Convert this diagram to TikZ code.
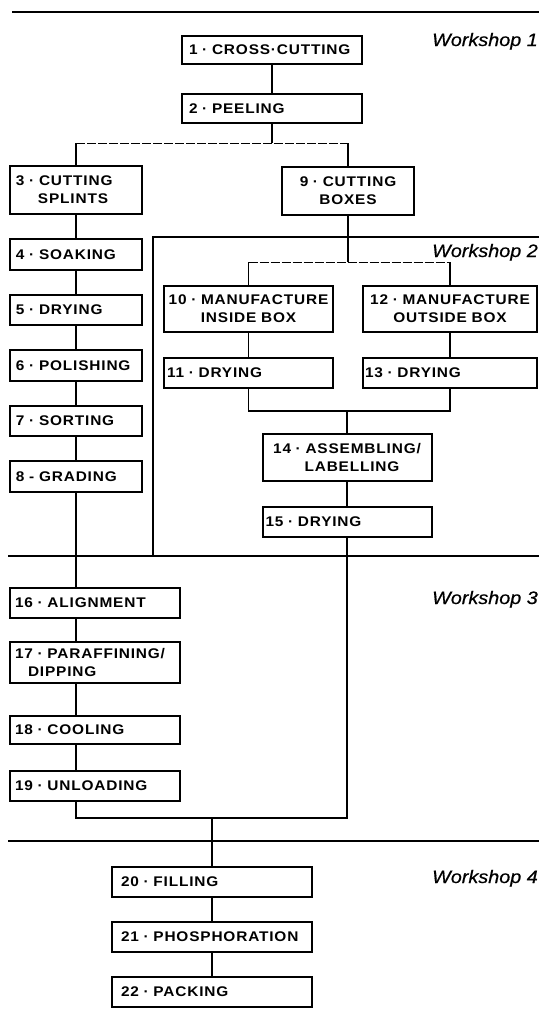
\documentclass[tikz,border=0pt]{standalone}
\usepackage{fontspec}
\newfontfamily\stagefont{Liberation Sans}[FakeStretch=1.1, LetterSpace=6]
\newfontfamily\shopfont{Liberation Sans}[FakeStretch=1.1, FakeBold=0.6]
\usetikzlibrary{positioning}

\tikzset{
  stage/.style = {draw, line width=2pt, inner xsep=6pt, inner ysep=0pt, align=left,
    font=\stagefont\bfseries\fontsize{14}{18}\selectfont},
  flow/.style = {line width=1.2pt},
  split/.style = {line width=0.9pt, dash pattern=on 9pt off 2pt},
  section/.style = {line width=2.5pt},
  frame/.style = {line width=2pt},
  shop/.style = {font=\shopfont\itshape\fontsize{18}{20}\selectfont, inner sep=0pt, anchor=base east}
}

\begin{document}
\begin{tikzpicture}[x=1pt, y=-1pt, node distance=23pt]
  \useasboundingbox (0,0) rectangle (539,1023);

  % workshop borders
  \draw[section] (12,12) -- (539,12);
  \draw[section] (8,556) -- (539,556);
  \draw[section] (8,841) -- (539,841);
  \draw[frame] (539,237) -- (153,237) -- (153,556);

  \node[shop] (W1) at (538,46) {Workshop 1};
  \node[shop] (W2) at (538,257) {Workshop 2};
  \node[shop] (W3) at (538,604) {Workshop 3};
  \node[shop] (W4) at (538,883) {Workshop 4};

  % workshop 1
  \node[stage, text width=166pt, inner xsep=7pt, minimum height=28pt] (S1) at (272,49.5) {1 · CROSS·CUTTING};
  \node[stage, text width=166pt, inner xsep=7pt, minimum height=29pt] (S2) [below=28.5pt of S1] {2 · PEELING};
  \node[stage, text width=120pt, minimum height=48pt] (S3) at (76,189.5) {3 · CUTTING\\\hspace*{22pt}SPLINTS};
  \node[stage, text width=120pt, align=center, minimum height=48pt] (S9) at (348,190.5) {9 · CUTTING\\BOXES};

  \node[stage, text width=120pt, minimum height=30.5pt] (S4) [below=23.5pt of S3] {4 · SOAKING};
  \foreach \i/\txt [evaluate=\i as \prev using {int(\i-1)}] in
      {5/{5 · DRYING}, 6/{6 · POLISHING}, 7/{7 · SORTING}, 8/{8 - GRADING}}
    \node[stage, text width=120pt, minimum height=30.5pt] (S\i) [below=of S\prev] {\txt};

  % workshop 2
  \node[stage, text width=165pt, inner xsep=2pt, align=center, minimum height=46pt] (S10) at (248.5,309) {10 · MANUFACTURE\\INSIDE BOX};
  \node[stage, text width=172pt, inner xsep=1pt, align=center, minimum height=46pt] (S12) at (450,309) {12 · MANUFACTURE\\OUTSIDE BOX};
  \node[stage, text width=163pt, inner xsep=3pt, minimum height=30pt] (S11) [below=24pt of S10] {11 · DRYING};
  \node[stage, text width=170pt, inner xsep=2pt, minimum height=30pt] (S13) [below=24pt of S12] {13 · DRYING};
  \node[stage, text width=161pt, inner xsep=4pt, align=center, minimum height=47pt] (S14) at (347,457.5) {14 · ASSEMBLING/\\\hspace*{10pt}LABELLING};
  \node[stage, text width=163pt, inner xsep=3pt, minimum height=30pt] (S15) [below=24pt of S14] {15 · DRYING};

  % workshop 3
  \node[stage, text width=160pt, inner xsep=5pt, minimum height=30pt] (S16) at (95,603) {16 · ALIGNMENT};
  \node[stage, text width=160pt, inner xsep=5pt, minimum height=41pt] (S17) [below=22pt of S16] {17 · PARAFFINING/\\\hspace*{13pt}DIPPING};
  \node[stage, text width=160pt, inner xsep=5pt, minimum height=28pt] (S18) [below=31pt of S17] {18 · COOLING};
  \node[stage, text width=160pt, inner xsep=5pt, minimum height=30pt] (S19) [below=25pt of S18] {19 · UNLOADING};

  % workshop 4
  \node[stage, text width=182pt, inner xsep=9pt, minimum height=30pt] (S20) at (212,882) {20 · FILLING};
  \node[stage, text width=182pt, inner xsep=9pt, minimum height=30pt] (S21) [below=of S20] {21 · PHOSPHORATION};
  \node[stage, text width=182pt, inner xsep=9pt, minimum height=30pt] (S22) [below=of S21] {22 · PACKING};

  % branch and merge points
  \coordinate (split1) at (0,143);
  \coordinate (split2) at (0,262);
  \coordinate (merge1) at (347,411);
  \coordinate (merge2) at (212,818);

  \draw[flow] (S1) -- (S2);
  \draw[flow] (S2.south) -- (S2.south |- split1);
  \draw[split] (S3.north |- split1) -- (S9.north |- split1);
  \draw[flow] (S3.north |- split1) -- (S3.north);
  \draw[flow] (S9.north |- split1) -- (S9.north);

  \foreach \i [evaluate=\i as \prev using {int(\i-1)}] in {4, ..., 8}
    \draw[flow] (S\prev.south) -- (S\i.north);
  \draw[flow] (S8.south) -- (S8.south |- S16.north);
  \foreach \i [evaluate=\i as \prev using {int(\i-1)}] in {17, ..., 19}
    \draw[flow] (S\prev.south -| S8.south) -- (S\i.north -| S8.south);

  \draw[flow] (S9.south) -- (S9.south |- split2);
  \draw[split] (S10.north |- split2) -- (S12.north |- split2);
  \draw[flow] (S10.north |- split2) -- (S10.north);
  \draw[flow] (S12.north |- split2) -- (S12.north);
  \draw[flow] (S10) -- (S11);
  \draw[flow] (S12) -- (S13);
  \draw[flow] (S11.south) |- (merge1) -| (S13.south);
  \draw[flow] (merge1) -- (S14.north);
  \draw[flow] (S14) -- (S15);

  \draw[flow] (S15.south) |- (merge2);
  \draw[flow] (S19.south -| S8.south) |- (merge2);
  \draw[flow] (merge2) -- (S20.north);
  \draw[flow] (S20) -- (S21);
  \draw[flow] (S21) -- (S22);
\end{tikzpicture}
\end{document}
